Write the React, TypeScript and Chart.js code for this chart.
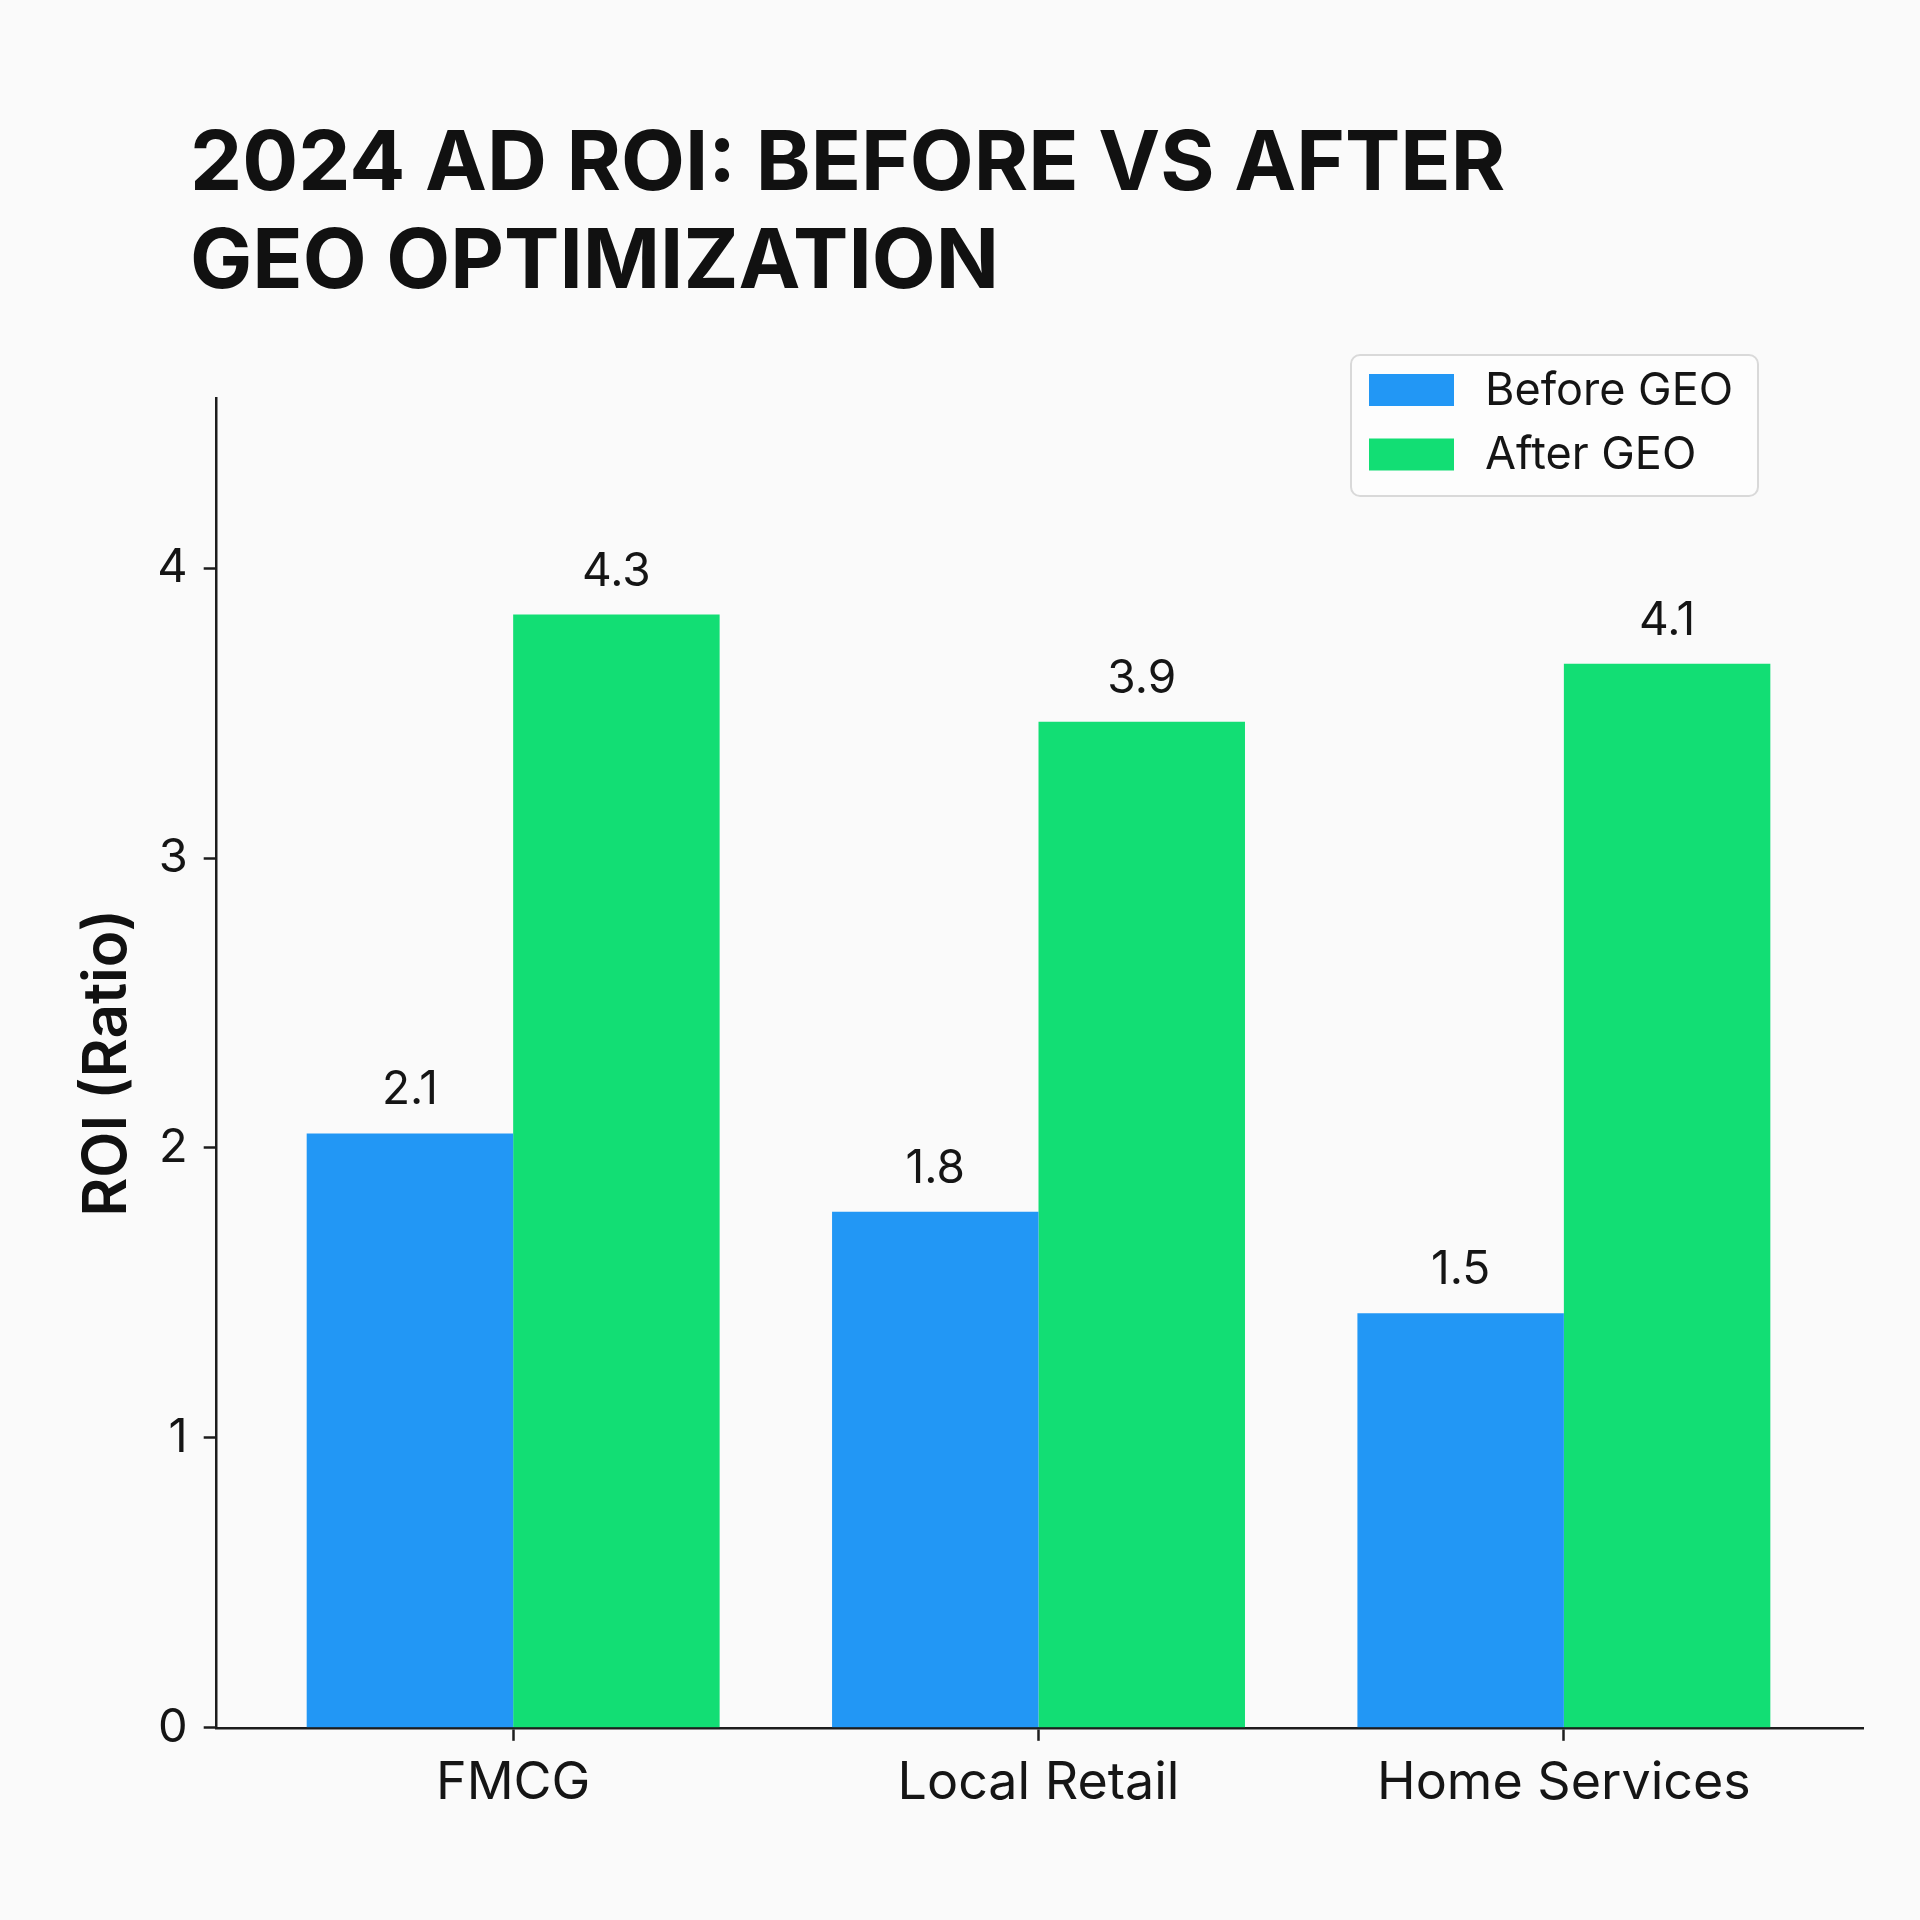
import React, { useEffect, useRef } from "react";
import { Chart, registerables } from "chart.js";

Chart.register(...registerables);

// ---- data ----
const categories = ["FMCG", "Local Retail", "Home Services"];
const seriesNames = ["Before GEO", "After GEO"];
// bar heights as drawn against the y axis
const beforeValues = [2.05, 1.78, 1.43];
const afterValues = [3.84, 3.47, 3.67];
// value labels printed above the bars
const beforeLabels = ["2.1", "1.8", "1.5"];
const afterLabels = ["4.3", "3.9", "4.1"];
const yTickStep = 1;
const yMin = 0;
const yMax = 4.587;
const titleLines = ["2024 AD ROI: BEFORE VS AFTER", "GEO OPTIMIZATION"];
const yAxisTitle = "ROI (Ratio)";

const BLUE = "#2297F5";
const GREEN = "#12DE74";
const INK = "#151515";
const AXIS = "#1c1c1c";
const FONT = "Inter";

const backgroundPlugin = {
  id: "bg",
  beforeDraw(chart: any) {
    const { ctx, width, height } = chart;
    ctx.save();
    ctx.fillStyle = "#fafafa";
    ctx.fillRect(0, 0, width, height);
    ctx.restore();
  },
};

const titlePlugin = {
  id: "customTitle",
  afterDraw(chart: any) {
    const { ctx } = chart;
    ctx.save();
    ctx.fillStyle = "#111111";
    ctx.font = `700 83px ${FONT}`;
    ctx.textAlign = "left";
    ctx.textBaseline = "alphabetic";
    ctx.fillText(titleLines[0], 190, 190);
    ctx.fillText(titleLines[1], 190, 288);
    ctx.restore();
  },
};

const valueLabelPlugin = {
  id: "valueLabels",
  afterDatasetsDraw(chart: any) {
    const { ctx } = chart;
    const texts = [beforeLabels, afterLabels];
    ctx.save();
    ctx.fillStyle = INK;
    ctx.font = `400 46px ${FONT}`;
    ctx.textAlign = "center";
    ctx.textBaseline = "alphabetic";
    chart.data.datasets.forEach((_: any, di: number) => {
      const meta = chart.getDatasetMeta(di);
      meta.data.forEach((bar: any, i: number) => {
        ctx.fillText(texts[di][i], bar.x, bar.y - 29);
      });
    });
    ctx.restore();
  },
};

const legendPlugin = {
  id: "boxLegend",
  afterDraw(chart: any) {
    const { ctx } = chart;
    const x = 1351, y = 355, w = 407, h = 141, r = 9;
    ctx.save();
    ctx.beginPath();
    ctx.moveTo(x + r, y);
    ctx.arcTo(x + w, y, x + w, y + h, r);
    ctx.arcTo(x + w, y + h, x, y + h, r);
    ctx.arcTo(x, y + h, x, y, r);
    ctx.arcTo(x, y, x + w, y, r);
    ctx.closePath();
    ctx.fillStyle = "#fdfdfd";
    ctx.fill();
    ctx.lineWidth = 2;
    ctx.strokeStyle = "#d9d9d9";
    ctx.stroke();
    ctx.font = `400 45px ${FONT}`;
    ctx.textAlign = "left";
    ctx.textBaseline = "middle";
    chart.data.datasets.forEach((ds: any, i: number) => {
      const cy = 390 + i * 64.5;
      ctx.fillStyle = ds.backgroundColor;
      ctx.fillRect(1369, cy - 16, 85, 32);
      ctx.fillStyle = INK;
      ctx.fillText(ds.label, 1485, cy + 1);
    });
    ctx.restore();
  },
};

export default function App() {
  const ref = useRef<HTMLCanvasElement | null>(null);

  useEffect(() => {
    if (!ref.current) return;
    const chart = new Chart(ref.current, {
      type: "bar",
      data: {
        labels: categories,
        datasets: [
          { label: seriesNames[0], data: beforeValues, backgroundColor: BLUE, borderWidth: 0 },
          { label: seriesNames[1], data: afterValues, backgroundColor: GREEN, borderWidth: 0 },
        ],
      },
      options: {
        responsive: false,
        animation: false,
        events: [],
        datasets: { bar: { categoryPercentage: 0.786, barPercentage: 1.0 } },
        layout: { padding: { left: 0, right: 56.3, top: 398, bottom: 0 } },
        plugins: {
          legend: { display: false },
          title: { display: false },
          tooltip: { enabled: false },
        },
        scales: {
          x: {
            offset: true,
            afterBuildTicks: (s: any) => {
              s._startValue = -0.5643;
              s._valueRange = 3.135;
            },
            afterFit: (s: any) => {
              s.height = 192.2;
            },
            grid: {
              display: true,
              offset: false,
              drawOnChartArea: false,
              drawTicks: true,
              tickLength: 13,
              tickWidth: 2.5,
              tickColor: AXIS,
            },
            border: { display: true, color: AXIS, width: 2.5 },
            ticks: {
              font: { family: FONT, size: 52, weight: "400" },
              color: INK,
              padding: 11,
              maxRotation: 0,
              autoSkip: false,
            },
          },
          y: {
            min: yMin,
            max: yMax,
            afterFit: (s: any) => {
              s.width = 216.7;
            },
            ticks: {
              stepSize: yTickStep,
              includeBounds: false,
              font: { family: FONT, size: 47, weight: "400" },
              color: INK,
              padding: 16,
            },
            grid: {
              display: true,
              drawOnChartArea: false,
              drawTicks: true,
              tickLength: 13,
              tickWidth: 2.5,
              tickColor: AXIS,
            },
            border: { display: true, color: AXIS, width: 2.5 },
            title: {
              display: true,
              text: yAxisTitle,
              color: "#111111",
              font: { family: FONT, size: 60, weight: "600" },
              padding: { top: 72, bottom: 0 },
            },
          },
        },
      },
      plugins: [backgroundPlugin, valueLabelPlugin, legendPlugin, titlePlugin],
    } as any);
    return () => chart.destroy();
  }, []);

  return (
    <div style={{ position: "absolute", left: 0, top: 0, width: 1920, height: 1920 }}>
      <canvas ref={ref} width={1920} height={1920} style={{ width: 1920, height: 1920, display: "block" }} />
    </div>
  );
}
